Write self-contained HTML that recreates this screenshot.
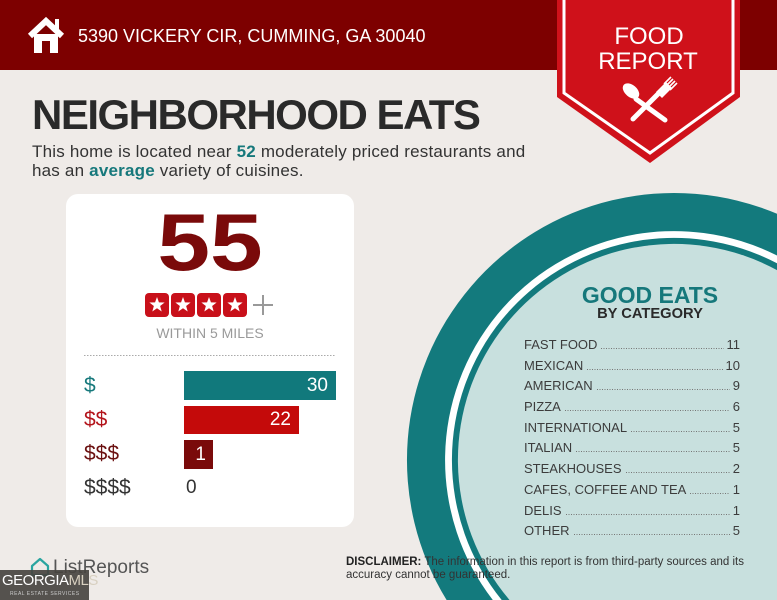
<!DOCTYPE html>
<html><head><meta charset="utf-8">
<style>
*{margin:0;padding:0;box-sizing:border-box}
html,body{width:777px;height:600px;overflow:hidden}
body{background:#efebe8;font-family:"Liberation Sans",sans-serif;position:relative}
.a{position:absolute;white-space:nowrap}
.row{position:absolute;left:524px;width:216px;height:20px;line-height:20px;display:flex;align-items:center;font-size:13px;color:#3c3c3c}
.row .d{flex:1;height:1px;margin:6px 3px 0 4px;background:repeating-linear-gradient(to right,#777 0 1px,transparent 1px 2.5px)}
.lbl{position:absolute;left:84px;font-size:21px;line-height:24px}
.bar{position:absolute;left:184px;color:#fff;font-size:19px;text-align:right;padding-right:8px}
</style></head><body>
<svg class="a" style="left:0;top:0" width="777" height="600">
 <rect x="0" y="0" width="777" height="70" fill="#7d0000"/>
 <path d="M446.6,600 A267,267 0 0 1 777,213.7 L777,600 Z" fill="#137a7d"/>
 <path d="M492.8,600 A229,229 0 0 1 777,255.5 L777,600 Z" fill="#ffffff"/>
 <path d="M501.7,600 A222,222 0 0 1 777,263.3 L777,600 Z" fill="#137a7d"/>
 <path d="M509.5,600 A216,216 0 0 1 777,270.1 L777,600 Z" fill="#c8e0de"/>
 <polygon points="557,0 740,0 740,97 650,163 557,97" fill="#cf111a"/>
 <polyline points="564,0 564,93 650,153 733,93 733,0" fill="none" stroke="#fff" stroke-width="3"/>
 <line x1="636" y1="99" x2="665" y2="120" stroke="#fff" stroke-width="5" stroke-linecap="round"/>
 <ellipse cx="631" cy="91" rx="6" ry="9.5" fill="#fff" transform="rotate(-50 631 91)"/>
 <line x1="633" y1="119" x2="660" y2="92" stroke="#fff" stroke-width="5" stroke-linecap="round"/>
 <path d="M656,92 L666,82 L672,88 L662,98 Z" fill="#fff"/>
 <line x1="664" y1="84" x2="671" y2="77" stroke="#fff" stroke-width="1.6"/>
 <line x1="666" y1="86" x2="673" y2="79" stroke="#fff" stroke-width="1.6"/>
 <line x1="668" y1="88" x2="675" y2="81" stroke="#fff" stroke-width="1.6"/>
 <line x1="670" y1="90" x2="677" y2="83" stroke="#fff" stroke-width="1.6"/>
 <polyline points="30,36 46,21 62,36" fill="none" stroke="#fff" stroke-width="6" stroke-linejoin="miter"/>
 <rect x="55" y="19" width="4" height="10" fill="#fff"/>
 <rect x="34" y="34" width="24" height="19" fill="#fff"/>
 <rect x="42" y="41" width="8" height="12" fill="#7d0000"/>
</svg>

<div class="a" style="left:78px;top:25px;font-size:18px;line-height:22px;color:#fff">5390 VICKERY CIR, CUMMING, GA 30040</div>

<div class="a" style="left:599px;top:25px;width:100px;text-align:center;font-size:24px;line-height:24px;color:#fff">FOOD</div>
<div class="a" style="left:598px;top:50px;width:100px;text-align:center;font-size:24px;line-height:24px;color:#fff">REPORT</div>

<div class="a" style="left:32px;top:94px;font-size:42px;line-height:42px;font-weight:bold;color:#2a2a2a;letter-spacing:-1.5px">NEIGHBORHOOD EATS</div>
<div class="a" style="left:32px;top:142px;font-size:17px;line-height:19px;color:#333;letter-spacing:0.2px">This home is located near <b style="color:#16787b">52</b> moderately priced restaurants and<br>has an <b style="color:#16787b">average</b> variety of cuisines.</div>

<div class="a" style="left:66px;top:194px;width:288px;height:333px;background:#fff;border-radius:12px"></div>
<div class="a" style="left:110px;top:203px;width:200px;text-align:center;font-size:81px;line-height:81px;font-weight:bold;color:#7a0a0a"><span style="display:inline-block;transform:scaleX(1.17)">55</span></div>

<svg class="a" style="left:145px;top:293px" width="130" height="24">
 <defs>
  <g id="st"><rect x="0" y="0" width="24" height="24" rx="4" fill="#c8101a"/><polygon points="12,4 13.94,9.33 19.61,9.53 15.14,13.02 16.70,18.47 12,15.3 7.30,18.47 8.86,13.02 4.39,9.53 10.06,9.33" fill="#fff"/></g>
 </defs>
 <use href="#st" x="0"/><use href="#st" x="26"/><use href="#st" x="52"/><use href="#st" x="78"/>
 <rect x="108" y="11" width="20" height="2" fill="#999"/>
 <rect x="117" y="2" width="2" height="20" fill="#999"/>
</svg>
<div class="a" style="left:110px;top:325px;width:200px;text-align:center;font-size:14px;line-height:16px;color:#9a9a9a">WITHIN 5 MILES</div>
<div class="a" style="left:84px;top:355px;width:252px;height:1px;background:repeating-linear-gradient(to right,#aaa 0 1.5px,transparent 1.5px 3px)"></div>

<div class="lbl" style="top:374px;color:#16787b">$</div>
<div class="lbl" style="top:408px;color:#b3141b">$$</div>
<div class="lbl" style="top:442px;color:#6b1010">$$$</div>
<div class="lbl" style="top:476px;color:#333">$$$$</div>

<div class="bar" style="top:371px;width:152px;height:29px;line-height:29px;background:#11797c">30</div>
<div class="bar" style="top:406px;width:115px;height:28px;line-height:28px;background:#c40a0a">22</div>
<div class="bar" style="top:440px;width:29px;height:29px;line-height:29px;background:#7a0a0a;padding-right:7px">1</div>
<div class="a" style="left:186px;top:477px;font-size:19px;line-height:22px;color:#333">0</div>

<div class="a" style="left:550px;top:283px;width:200px;text-align:center;font-size:23px;line-height:24px;font-weight:bold;color:#16787b">GOOD EATS</div>
<div class="a" style="left:550px;top:306px;width:200px;text-align:center;font-size:14.7px;line-height:16px;font-weight:bold;color:#2a2a2a">BY CATEGORY</div>

<div class="row" style="top:335px"><span>FAST FOOD</span><span class="d"></span><span>11</span></div>
<div class="row" style="top:356px"><span>MEXICAN</span><span class="d"></span><span>10</span></div>
<div class="row" style="top:376px"><span>AMERICAN</span><span class="d"></span><span>9</span></div>
<div class="row" style="top:397px"><span>PIZZA</span><span class="d"></span><span>6</span></div>
<div class="row" style="top:418px"><span>INTERNATIONAL</span><span class="d"></span><span>5</span></div>
<div class="row" style="top:438px"><span>ITALIAN</span><span class="d"></span><span>5</span></div>
<div class="row" style="top:459px"><span>STEAKHOUSES</span><span class="d"></span><span>2</span></div>
<div class="row" style="top:480px"><span>CAFES, COFFEE AND TEA</span><span class="d"></span><span>1</span></div>
<div class="row" style="top:501px"><span>DELIS</span><span class="d"></span><span>1</span></div>
<div class="row" style="top:521px"><span>OTHER</span><span class="d"></span><span>5</span></div>

<div class="a" style="left:346px;top:556px;font-size:11.5px;line-height:13px;color:#333"><b style="color:#222">DISCLAIMER:</b> The information in this report is from third-party sources and its<br>accuracy cannot be guaranteed.</div>

<svg class="a" style="left:29px;top:556px" width="22" height="22">
 <path d="M3,10 L11,3 L19,10 L19,19 L3,19 Z" fill="none" stroke="#2aa5a0" stroke-width="2.2" stroke-linejoin="round"/>
</svg>
<div class="a" style="left:53px;top:557px;font-size:19px;line-height:22px;color:#555">ListReports</div>
<div class="a" style="left:0;top:570px;width:89px;height:30px;background:rgba(72,68,64,0.92)"></div>
<div class="a" style="left:2px;top:572px;font-size:15px;line-height:18px;color:#fff;letter-spacing:-0.5px">GEORGIA<span style="color:#d8d0c0">MLS</span></div>
<div class="a" style="left:10px;top:591px;font-size:5px;line-height:6px;color:#ccc;letter-spacing:0.5px">REAL ESTATE SERVICES</div>
</body></html>
